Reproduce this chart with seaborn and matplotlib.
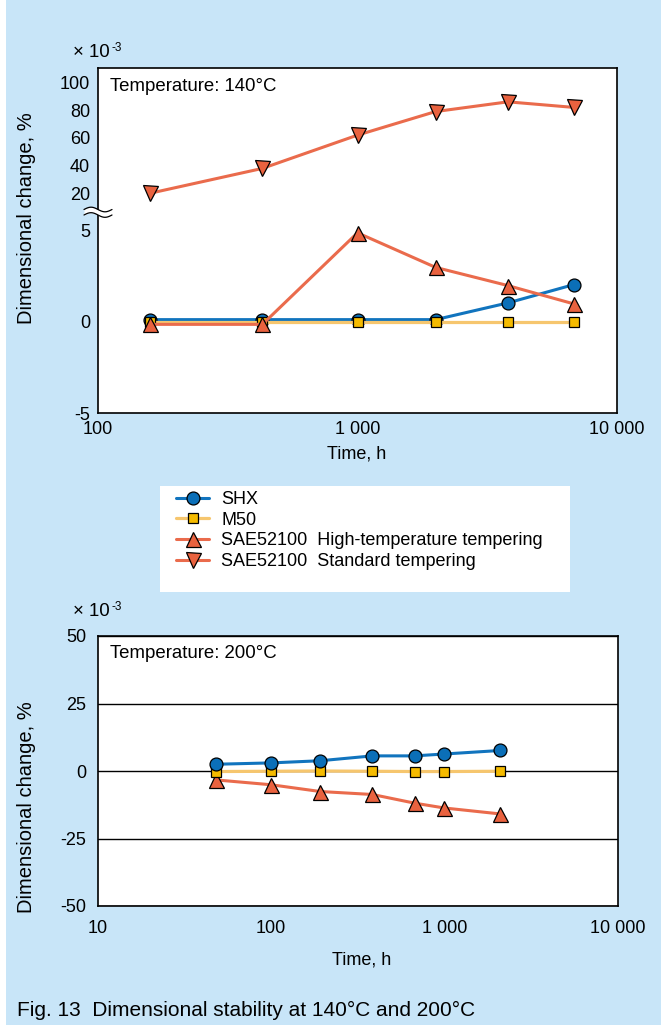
import numpy as np
import matplotlib
matplotlib.use("Agg")
import matplotlib.pyplot as plt
import seaborn as sns
from matplotlib.lines import Line2D
from matplotlib.patches import Rectangle
from matplotlib.ticker import NullLocator

# ---------------- data ----------------
t140 = [158, 430, 1000, 2000, 3800, 6800]
shx_140 = [0.13, 0.13, 0.13, 0.13, 1.05, 2.05]
m50_140 = [0.0, 0.0, 0.0, 0.0, 0.0, 0.0]
ht_140 = [-0.13, -0.13, 4.9, 3.0, 2.0, 1.0]
std_140 = [20, 38, 62, 79, 86, 82]

t200 = [48, 100, 192, 384, 672, 1000, 2100]
shx_200 = [2.5, 3.0, 3.8, 5.6, 5.6, 6.3, 7.6]
m50_200 = [-0.2, -0.1, 0.0, -0.1, -0.2, -0.2, -0.1]
ht_200 = [-3.3, -5.1, -7.6, -8.7, -11.9, -13.7, -15.9]

series_names = ["SHX", "M50", "SAE52100  High-temperature tempering",
                "SAE52100  Standard tempering"]
x_ticks_140 = [100, 1000, 10000]
x_labels_140 = ["100", "1 000", "10 000"]
x_ticks_200 = [10, 100, 1000, 10000]
x_labels_200 = ["10", "100", "1 000", "10 000"]
y_ticks_140 = [-5, 0, 5, 20, 40, 60, 80, 100]
y_ticks_200 = [-50, -25, 0, 25, 50]

# ---------------- style ----------------
sns.set_theme(style="white")
plt.rcParams["font.family"] = ["Liberation Sans", "DejaVu Sans"]
plt.rcParams["axes.edgecolor"] = "black"
plt.rcParams["axes.linewidth"] = 1.2
plt.rcParams["xtick.color"] = "black"
plt.rcParams["ytick.color"] = "black"
plt.rcParams["text.color"] = "black"
plt.rcParams["axes.labelcolor"] = "black"

BG = "#c8e5f8"
BLUE_LINE = "#1174be"
BLUE_FILL = "#0b6fb8"
M50_LINE = "#f6c66e"
M50_FILL = "#f5bb00"
OR_LINE = "#ea6b4c"
OR_FILL = "#e9623f"

W, H = 661, 1025
fig = plt.figure(figsize=(W / 100, H / 100), dpi=100, facecolor=BG)


def fx(px):
    return px / W


def fy(py):
    return 1 - py / H


# white strip on the left
fig.add_artist(Rectangle((0, 0), fx(6), 1, transform=fig.transFigure,
                         facecolor="white", edgecolor="none", zorder=0))

ax1 = fig.add_axes([fx(98), fy(413), fx(617) - fx(98), fy(68) - fy(413)])
ax2 = fig.add_axes([fx(98), fy(906), fx(617.6) - fx(98), fy(636) - fy(906)])
for ax in (ax1, ax2):
    ax.set_facecolor("white")

# broken y-scale for upper chart
BRK = 6.0
K = 0.0762


def fwd(y):
    y = np.asarray(y, dtype=float)
    return np.where(y <= BRK, y, BRK + (y - BRK) * K)


def inv(t):
    t = np.asarray(t, dtype=float)
    return np.where(t <= BRK, t, BRK + (t - BRK) / K)


ax1.set_xscale("log")
ax1.set_yscale("function", functions=(fwd, inv))
ax2.set_xscale("log")

common = dict(markeredgecolor="black", markeredgewidth=0.9, legend=False)

# ---- upper chart (140 C) ----
sns.lineplot(x=t140, y=m50_140, ax=ax1, color=M50_LINE, lw=2.3, marker="s",
             markersize=7.8, markerfacecolor=M50_FILL, zorder=3.5, **common)
sns.lineplot(x=t140, y=shx_140, ax=ax1, color=BLUE_LINE, lw=2.2, marker="o",
             markersize=9.3, markerfacecolor=BLUE_FILL, zorder=3, **common)
sns.lineplot(x=t140, y=ht_140, ax=ax1, color=OR_LINE, lw=2.2, marker="^",
             markersize=10.8, markerfacecolor=OR_FILL, zorder=4, **common)
sns.lineplot(x=t140, y=std_140, ax=ax1, color=OR_LINE, lw=2.2, marker="v",
             markersize=10.8, markerfacecolor=OR_FILL, zorder=4, **common)

ax1.set_xlim(100, 10000)
ax1.set_ylim(-5, 110.4)
ax1.set_xticks(x_ticks_140, x_labels_140)
ax1.xaxis.set_minor_locator(NullLocator())
ax1.set_yticks(y_ticks_140, [str(v) for v in y_ticks_140])
ax1.yaxis.set_minor_locator(NullLocator())
ax1.tick_params(axis="y", direction="in", length=8, width=1.1, pad=5.8,
                labelsize=13)
ax1.tick_params(axis="x", direction="in", length=7, width=1.0, pad=5.5,
                labelsize=13)
ax1.set_xlabel("Time, h", fontsize=13)
ax1.set_ylabel("Dimensional change, %", fontsize=14.5)
ax1.xaxis.set_label_coords((357 - 98) / 519, (413 - 445.5) / 345)
ax1.yaxis.set_label_coords(-0.119, (413 - 218) / 345)
ax1.text((110 - 98) / 519, (413 - 91) / 345, "Temperature: 140°C",
         transform=ax1.transAxes, fontsize=13.4, va="baseline", ha="left")

# axis break mark on the left spine
xs = np.linspace(84, 112, 60)
wave = 2.3 * np.sin(2 * np.pi * (xs - 84) / 28)
y_up = 209.5 - wave
y_lo = 215.0 - wave
ax1.fill_between(fx(xs), fy(y_up), fy(y_lo), transform=fig.transFigure,
                 color="white", lw=0, zorder=6, clip_on=False)
ax1.plot(fx(xs), fy(y_up), transform=fig.transFigure, color="black", lw=0.9,
         zorder=7, clip_on=False)
ax1.plot(fx(xs), fy(y_lo), transform=fig.transFigure, color="black", lw=0.9,
         zorder=7, clip_on=False)

# ---- lower chart (200 C) ----
sns.lineplot(x=t200, y=m50_200, ax=ax2, color=M50_LINE, lw=2.3, marker="s",
             markersize=7.8, markerfacecolor=M50_FILL, zorder=3, **common)
sns.lineplot(x=t200, y=ht_200, ax=ax2, color=OR_LINE, lw=2.2, marker="^",
             markersize=10.8, markerfacecolor=OR_FILL, zorder=2, **common)
sns.lineplot(x=t200, y=shx_200, ax=ax2, color=BLUE_LINE, lw=2.2, marker="o",
             markersize=9.3, markerfacecolor=BLUE_FILL, zorder=4, **common)

ax2.set_xlim(10, 10000)
ax2.set_ylim(-50, 50)
ax2.set_xticks(x_ticks_200, x_labels_200)
ax2.xaxis.set_minor_locator(NullLocator())
ax2.set_yticks(y_ticks_200, [str(v) for v in y_ticks_200])
ax2.grid(axis="y", color="black", lw=1.0)
ax2.grid(axis="x", visible=False)
ax2.set_axisbelow(True)
ax2.tick_params(axis="y", length=0, pad=8.6, labelsize=13)
ax2.tick_params(axis="x", direction="in", length=9, width=1.0, pad=9.8,
                labelsize=13)
ax2.set_xlabel("Time, h", fontsize=13)
ax2.set_ylabel("Dimensional change, %", fontsize=14.5)
ax2.xaxis.set_label_coords((361.7 - 98) / 519.6, (906 - 951.6) / 270)
ax2.yaxis.set_label_coords(-0.119, (906 - 807) / 270)
ax2.text((110 - 98) / 519.6, (906 - 658) / 270, "Temperature: 200°C",
         transform=ax2.transAxes, fontsize=13.4, va="baseline", ha="left")

# ---- exponent labels ----
for base in (57, 616):
    fig.text(fx(73), fy(base), "× 10", fontsize=13.4, va="baseline", ha="left")
    fig.text(fx(111), fy(base - 6), "-3", fontsize=8.5, va="baseline",
             ha="left")

# ---- legend ----
fig.add_artist(Rectangle((fx(160), fy(592)), fx(570) - fx(160),
                         fy(486) - fy(592), transform=fig.transFigure,
                         facecolor="white", edgecolor="none", zorder=0))
handles = [
    Line2D([], [], color=BLUE_LINE, lw=2.2, marker="o", markersize=9.3,
           markerfacecolor=BLUE_FILL, markeredgecolor="black",
           markeredgewidth=0.9),
    Line2D([], [], color=M50_LINE, lw=2.3, marker="s", markersize=7.8,
           markerfacecolor=M50_FILL, markeredgecolor="black",
           markeredgewidth=0.9),
    Line2D([], [], color=OR_LINE, lw=2.2, marker="^", markersize=10.8,
           markerfacecolor=OR_FILL, markeredgecolor="black",
           markeredgewidth=0.9),
    Line2D([], [], color=OR_LINE, lw=2.2, marker="v", markersize=10.8,
           markerfacecolor=OR_FILL, markeredgecolor="black",
           markeredgewidth=0.9),
]
fig.legend(handles, series_names, loc="upper left",
           bbox_to_anchor=(fx(176), fy(491)), frameon=False, borderpad=0,
           borderaxespad=0, handlelength=1.85, handletextpad=0.65,
           labelspacing=0.2, fontsize=13)

# ---- caption ----
fig.text(fx(17), fy(1016), "Fig. 13  Dimensional stability at 140°C and 200°C",
         fontsize=15, va="baseline", ha="left")

fig.savefig("out.png", dpi=100, facecolor=BG)
